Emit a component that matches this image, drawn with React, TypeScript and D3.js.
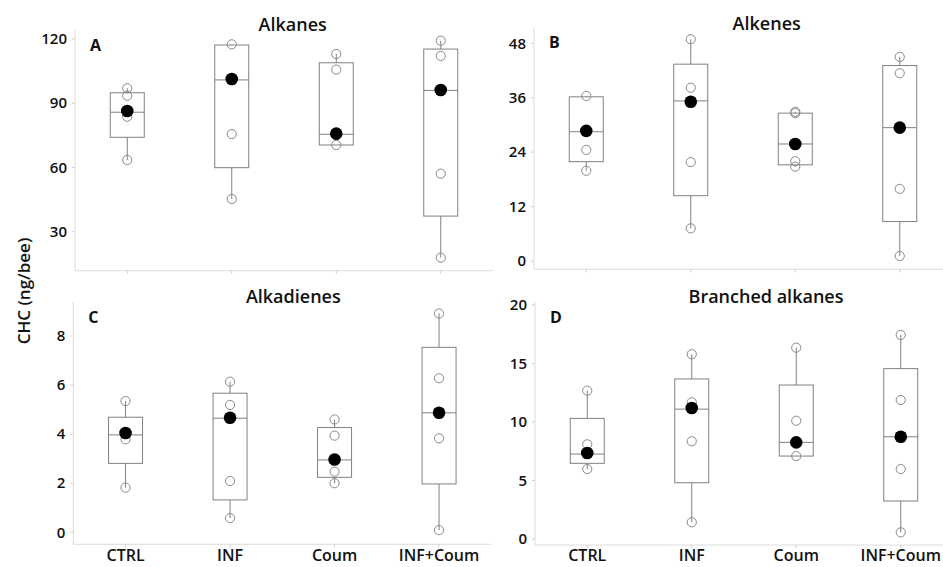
import React from "react";
import * as d3 from "d3";

const categories = ["CTRL", "INF", "Coum", "INF+Coum"];

// Panel A – Alkanes
const alkanesPoints = [[97.0, 93.5, 83.7, 63.5], [117.5, 101.0, 75.6, 45.3], [113.0, 105.7, 75.0, 70.5], [119.2, 112.1, 57.1, 17.9]];
const alkanesQ1 = [74.1, 59.9, 70.5, 37.3];
const alkanesMedian = [85.8, 100.9, 75.5, 96.0];
const alkanesQ3 = [94.9, 117.2, 108.9, 115.3];
const alkanesMean = [86.4, 101.3, 75.8, 96.2];
const alkanesTicks = [30, 60, 90, 120];

// Panel B – Alkenes
const alkenesPoints = [[36.4, 28.5, 24.5, 19.9], [48.9, 38.2, 21.8, 7.2], [32.9, 32.6, 22.0, 20.8], [45.0, 41.4, 15.9, 1.1]];
const alkenesQ1 = [21.9, 14.4, 21.2, 8.7];
const alkenesMedian = [28.5, 35.3, 25.8, 29.4];
const alkenesQ3 = [36.2, 43.4, 32.6, 43.1];
const alkenesMean = [28.7, 35.1, 25.8, 29.4];
const alkenesTicks = [0, 12, 24, 36, 48];

// Panel C – Alkadienes
const alkadienesPoints = [[5.35, 3.79, 1.82], [6.14, 5.19, 2.09, 0.58], [4.6, 3.94, 2.47, 2.0], [8.92, 6.28, 3.83, 0.09]];
const alkadienesQ1 = [2.81, 1.32, 2.24, 1.97];
const alkadienesMedian = [3.97, 4.65, 2.95, 4.87];
const alkadienesQ3 = [4.69, 5.67, 4.27, 7.54];
const alkadienesMean = [4.05, 4.67, 2.97, 4.87];
const alkadienesTicks = [0, 2, 4, 6, 8];

// Panel D – Branched alkanes
const branchedPoints = [[12.68, 8.09, 5.98], [15.79, 11.68, 8.35, 1.43], [16.35, 10.11, 7.09], [17.44, 11.88, 5.98, 0.57]];
const branchedQ1 = [6.47, 4.81, 7.09, 3.25];
const branchedMedian = [7.26, 11.1, 8.26, 8.74];
const branchedQ3 = [10.31, 13.68, 13.16, 14.56];
const branchedMean = [7.35, 11.2, 8.26, 8.74];
const branchedTicks = [0, 5, 10, 15, 20];

const FONT = "'Open Sans', 'Noto Sans', sans-serif";

type PanelProps = {
  title: string;
  letter: string;
  points: number[][];
  q1: number[];
  median: number[];
  q3: number[];
  mean: number[];
  ticks: number[];
  domain: [number, number];
  left: number;
  top: number;
  bottom: number;
  titleX: number;
  titleY: number;
  showX: boolean;
};

function Panel(p: PanelProps) {
  const width = 418;
  const x = d3.scalePoint<string>().domain(categories).range([p.left, p.left + width]).padding(0.5);
  const y = d3.scaleLinear().domain(p.domain).range([p.bottom, p.top]);
  const boxW = 34;
  const boxStroke = "#808080";
  return (
    <g>
      <line x1={p.left} x2={p.left} y1={p.top} y2={p.bottom} stroke="#dcdcdc" strokeWidth={1} />
      <line x1={p.left} x2={p.left + width} y1={p.bottom} y2={p.bottom} stroke="#dcdcdc" strokeWidth={1} />
      {p.ticks.map((t) => (
        <g key={t}>
          <line x1={p.left - 3} x2={p.left} y1={y(t)} y2={y(t)} stroke="#d0d0d0" />
          <text x={p.left - 8} y={y(t)} dy="0.35em" textAnchor="end" fontFamily={FONT} fontWeight={600} fontSize={15} fill="#111">
            {t}
          </text>
        </g>
      ))}
      {categories.map((c) => (
        <line key={c} x1={x(c)} x2={x(c)} y1={p.bottom} y2={p.bottom + 3} stroke="#d0d0d0" />
      ))}
      {p.showX &&
        categories.map((c) => (
          <text key={c} x={x(c)} y={561} textAnchor="middle" fontFamily={FONT} fontWeight={600} fontSize={16} fill="#111">
            {c}
          </text>
        ))}
      <text x={p.titleX} y={p.titleY} textAnchor="middle" fontFamily={FONT} fontWeight={600} fontSize={18} fill="#111">
        {p.title}
      </text>
      <text x={p.left + 15} y={p.top + 21} fontFamily={FONT} fontWeight={700} fontSize={16} fill="#111">
        {p.letter}
      </text>
      {categories.map((c, i) => {
        const cx = x(c) as number;
        const pts = p.points[i];
        const mx = d3.max(pts) as number;
        const mn = d3.min(pts) as number;
        return (
          <g key={c}>
            {mx > p.q3[i] && <line x1={cx} x2={cx} y1={y(p.q3[i])} y2={y(mx)} stroke={boxStroke} />}
            {mn < p.q1[i] && <line x1={cx} x2={cx} y1={y(p.q1[i])} y2={y(mn)} stroke={boxStroke} />}
            <rect x={cx - boxW / 2} y={y(p.q3[i])} width={boxW} height={y(p.q1[i]) - y(p.q3[i])} fill="none" stroke={boxStroke} strokeWidth={1} />
            <line x1={cx - boxW / 2} x2={cx + boxW / 2} y1={y(p.median[i])} y2={y(p.median[i])} stroke={boxStroke} />
            {pts.map((v, j) => (
              <circle key={j} cx={cx} cy={y(v)} r={4.6} fill="none" stroke="#8a8a8a" strokeWidth={1} />
            ))}
            <circle cx={cx} cy={y(p.mean[i])} r={6.3} fill="#000" />
          </g>
        );
      })}
    </g>
  );
}

export default function App() {
  return (
    <svg width={943} height={567} style={{ display: "block", position: "absolute", left: 0, top: 0, background: "#fff" }}>
      <rect width={943} height={567} fill="#fff" />
      <text transform="translate(30,291) rotate(-90)" textAnchor="middle" fontFamily={FONT} fontWeight={600} fontSize={17} fill="#111">
        CHC (ng/bee)
      </text>
      <Panel title="Alkanes" letter="A" points={alkanesPoints} q1={alkanesQ1} median={alkanesMedian} q3={alkanesQ3} mean={alkanesMean}
        ticks={alkanesTicks} domain={[11.8, 124.2]} left={75} top={30} bottom={270.7} titleX={292.7} titleY={31} showX={false} />
      <Panel title="Alkenes" letter="B" points={alkenesPoints} q1={alkenesQ1} median={alkenesMedian} q3={alkenesQ3} mean={alkenesMean}
        ticks={alkenesTicks} domain={[-1.83, 51.66]} left={534} top={26.7} bottom={269.3} titleX={766.7} titleY={30} showX={false} />
      <Panel title="Alkadienes" letter="C" points={alkadienesPoints} q1={alkadienesQ1} median={alkadienesMedian} q3={alkadienesQ3} mean={alkadienesMean}
        ticks={alkadienesTicks} domain={[-0.49, 9.4]} left={73.3} top={301.7} bottom={544.3} titleX={293.3} titleY={303.3} showX={true} />
      <Panel title="Branched alkanes" letter="D" points={branchedPoints} q1={branchedQ1} median={branchedMedian} q3={branchedQ3} mean={branchedMean}
        ticks={branchedTicks} domain={[-0.51, 20.28]} left={535} top={301.7} bottom={545} titleX={766} titleY={303.3} showX={true} />
    </svg>
  );
}
